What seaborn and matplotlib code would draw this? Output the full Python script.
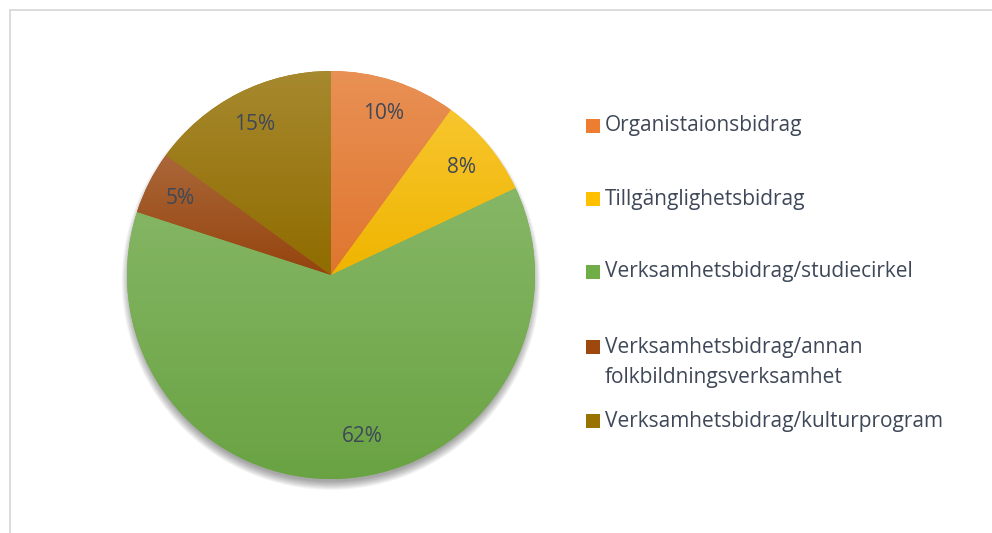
import numpy as np
import matplotlib
matplotlib.use("Agg")
import matplotlib.pyplot as plt
import seaborn as sns
from matplotlib.patches import Circle, Rectangle
from matplotlib.lines import Line2D
from matplotlib.colors import to_rgb

# ---- data ----
categories = [
    "Organistaionsbidrag",
    "Tillgänglighetsbidrag",
    "Verksamhetsbidrag/studiecirkel",
    "Verksamhetsbidrag/annan\nfolkbildningsverksamhet",
    "Verksamhetsbidrag/kulturprogram",
]
shares = [10, 8, 62, 5, 15]
base_colors = ["#ED7D31", "#FFC000", "#70AD47", "#9E480E", "#997300"]

sns.set_theme(style="white")
FONT = ["Open Sans", "DejaVu Sans"]
plt.rcParams["font.family"] = FONT
TEXT_COLOR = "#3E4858"
FS = 15.0

W, H = 992, 533
fig = plt.figure(figsize=(W / 100, H / 100), dpi=100)
fig.patch.set_facecolor("white")

# chart frame (top and left edges visible)
fig.add_artist(Line2D([9.5 / W, 1.0], [1 - 9.5 / H, 1 - 9.5 / H], transform=fig.transFigure,
                      color="#D9D9D9", lw=1.3))
fig.add_artist(Line2D([9.5 / W, 9.5 / W], [0, 1 - 9.5 / H], transform=fig.transFigure,
                      color="#D9D9D9", lw=1.3))

# pie axes: centre (331,275) radius 204 px
cx, cy, R = 331, 275, 204
ax = fig.add_axes([(cx - R) / W, (H - cy - R) / H, 2 * R / W, 2 * R / H])
ax.axis("off")

# soft shadow (mostly below the pie)
for i in range(10):
    ax.add_patch(Circle((0.0, -0.028), 0.985 + 0.0045 * i, facecolor="black",
                        edgecolor="none", alpha=0.04, zorder=0, clip_on=False))

wedges, _, autotexts = ax.pie(
    shares, colors=base_colors, startangle=90, counterclock=False,
    radius=1.0, autopct="%1.0f%%", pctdistance=0.83,
    wedgeprops=dict(linewidth=0, edgecolor="none", zorder=1),
    textprops=dict(color=TEXT_COLOR, fontsize=FS, family=FONT),
)
ax.set_xlim(-1, 1)
ax.set_ylim(-1, 1)
ax.set_aspect("auto")


def mix(c, t, a):
    c = np.array(to_rgb(c)); t = np.array(to_rgb(t))
    return c * (1 - a) + t * a


# gradient fill per slice (lighter at top, deeper at bottom)
for w, col in zip(wedges, base_colors):
    v = w.get_path().vertices
    y0, y1 = v[:, 1].min(), v[:, 1].max()
    x0, x1 = v[:, 0].min(), v[:, 0].max()
    top = mix(mix(col, "white", 0.16), "#808080", 0.06)
    bot = mix(col, "black", 0.06)
    t = np.linspace(0, 1, 256)[:, None]
    grad = (top[None, :] * (1 - t) + bot[None, :] * t)[:, None, :]
    im = ax.imshow(grad, extent=(x0, x1, y0, y1), origin="upper", aspect="auto",
                   interpolation="bilinear", zorder=2)
    im.set_clip_path(w)
ax.set_xlim(-1, 1)
ax.set_ylim(-1, 1)

for t in autotexts:
    t.set_zorder(5)
# Excel best-fit nudges the big slice's label a little towards the right
x, y = autotexts[2].get_position()
ang = np.deg2rad(7.0)
autotexts[2].set_position((x * np.cos(ang) - y * np.sin(ang),
                           (x * np.sin(ang) + y * np.cos(ang)) * 0.97))

# legend drawn as squares + text
leg_y = [126, 199, 272, 347, 421]
sq = 14
for lab, col, yy in zip(categories, base_colors, leg_y):
    fig.add_artist(Rectangle((586 / W, (H - yy - sq / 2) / H), sq / W, sq / H,
                             transform=fig.transFigure, facecolor=col, edgecolor="none"))
    first, *rest = lab.split("\n")
    fig.text(605 / W, (H - yy) / H, first, color=TEXT_COLOR, fontsize=FS,
             va="center", ha="left", family=FONT)
    for k, line in enumerate(rest):
        fig.text(605 / W, (H - yy - 30 * (k + 1)) / H, line, color=TEXT_COLOR, fontsize=FS,
                 va="center", ha="left", family=FONT)

fig.savefig("out.png", dpi=100, facecolor="white")
